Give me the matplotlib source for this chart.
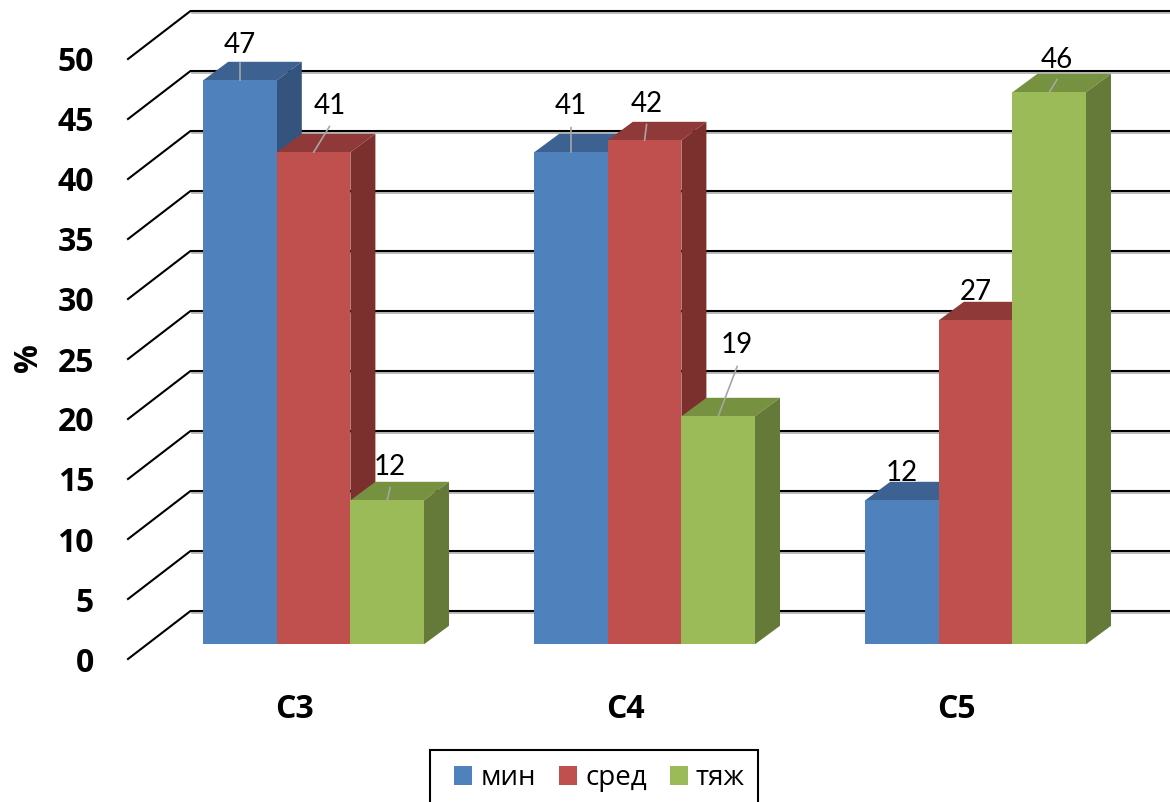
import matplotlib
matplotlib.use("Agg")
import matplotlib.pyplot as plt
from matplotlib.patches import Polygon, Patch, Rectangle

# Chart data
categories = ["С3", "С4", "С5"]
series_names = ["мин", "сред", "тяж"]
min_values = [47, 41, 12]
mid_values = [41, 42, 27]
severe_values = [12, 19, 46]
y_ticks = [0, 5, 10, 15, 20, 25, 30, 35, 40, 45, 50]

# Colours per series: front, top, side
front_colors = ["#4F81BD", "#C0504D", "#9BBB59"]
top_colors = ["#3D6291", "#8F3A38", "#76913F"]
side_colors = ["#34547E", "#7B302E", "#657938"]

# Scales of the pseudo-3D scene, in pixels
W, H = 1170, 802
UNIT_PX = 12.0          # pixels per percentage point
BASE_PX = 644.3         # baseline of the bar plane
CAT_PX = 331.0          # distance between categories
CAT0_PX = 313.6         # centre of first category
BAR_W = 73.6 / CAT_PX
DEPTH_X = 25.0 / CAT_PX
DEPTH_Y = 18.5 / UNIT_PX
WALL_DX = 190.5
FLOOR_DX = 128.0
BACK_Y = (BASE_PX - 611.0) / UNIT_PX
FRONT_Y = (BASE_PX - 659.0) / UNIT_PX

fig = plt.figure(figsize=(W / 100, H / 100), dpi=100, facecolor="white")
ax = fig.add_axes([0, 0, 1, 1])
ax.set_xlim(-CAT0_PX / CAT_PX, (W - CAT0_PX) / CAT_PX)
ax.set_ylim((BASE_PX - H) / UNIT_PX, BASE_PX / UNIT_PX)
ax.axis("off")


def px_x(px):
    return (px - CAT0_PX) / CAT_PX


def px_y(px):
    return (BASE_PX - px) / UNIT_PX


SANS = ["Lato", "Open Sans", "DejaVu Sans"]
CYR = ["Open Sans", "DejaVu Sans"]

# Wall gridlines and the slanted floor ticks
for t in y_ticks:
    y_back = t + BACK_Y
    y_front = t + FRONT_Y
    ax.plot([px_x(WALL_DX), px_x(W)], [y_back - 0.14] * 2, color="#b0b0b0",
            lw=1.2, zorder=1, solid_capstyle="butt")
    ax.plot([px_x(FLOOR_DX), px_x(WALL_DX), px_x(W)], [y_front, y_back, y_back],
            color="black", lw=1.5, zorder=2, solid_joinstyle="miter")
    ax.text(px_x(94), y_front, str(t), ha="right", va="center_baseline",
            fontsize=23, fontweight="bold", family=CYR, color="black", zorder=5)

# Bars, drawn left to right so that neighbours overlap properly
all_series = [min_values, mid_values, severe_values]
z = 3.0
for ci in range(len(categories)):
    for si, values in enumerate(all_series):
        v = values[ci]
        left = ci + (si - 1.5) * BAR_W
        right = left + BAR_W
        ax.add_patch(Polygon([(left, v), (right, v),
                              (right + DEPTH_X, v + DEPTH_Y),
                              (left + DEPTH_X, v + DEPTH_Y)],
                             closed=True, fc=top_colors[si], ec="none", zorder=z))
        ax.add_patch(Polygon([(right, 0), (right + DEPTH_X, DEPTH_Y),
                              (right + DEPTH_X, v + DEPTH_Y), (right, v)],
                             closed=True, fc=side_colors[si], ec="none", zorder=z))
        ax.bar(left, v, width=BAR_W, align="edge", color=front_colors[si],
               edgecolor="none", zorder=z + 0.1)
        z += 0.2

# Value labels with their leader lines: offsets in pixels from the bar's top centre
label_offsets = [
    [(0, 38), (16, 49), (3, 36)],
    [(0, 49), (2, 39), (19, 74)],
    [(0, 30), (0, 31), (8, 35)],
]
leader_offsets = [
    [(0, 18), (16, 26), (3, 13)],
    [(0, 25), (2, 16), (19, 50)],
    [None, None, (8, 13)],
]
for ci in range(len(categories)):
    for si, values in enumerate(all_series):
        v = values[ci]
        cx = ci + (si - 1.0) * BAR_W
        leader = leader_offsets[ci][si]
        if leader is not None:
            ax.annotate("", xy=(cx, v), xytext=leader, textcoords="offset pixels",
                        arrowprops=dict(arrowstyle="-", color="#a6a6a6", lw=1.2,
                                        shrinkA=0, shrinkB=0),
                        zorder=20)
        ax.annotate(str(v), xy=(cx, v), xytext=label_offsets[ci][si],
                    textcoords="offset pixels", ha="center", va="center_baseline",
                    fontsize=20, family=SANS, color="black", zorder=21)

# Category labels
for ci, name in enumerate(categories):
    ax.text(ci - 19 / CAT_PX, px_y(706), name, ha="center",
            va="center_baseline", fontsize=23, fontweight="bold",
            family=CYR, color="black")

# Vertical axis title
ax.text(px_x(28), px_y(358), "%", rotation=90, ha="center",
        va="center", fontsize=23, fontweight="bold", family=CYR, color="black")

# Legend box running off the bottom edge of the canvas, with its entries inside
ax.add_patch(Rectangle((px_x(430), px_y(810)), 328 / CAT_PX, 60 / UNIT_PX,
                       fc="white", ec="black", lw=1.5, zorder=29))
handles = [Patch(facecolor=c, edgecolor="none") for c in front_colors]
leg = ax.legend(handles, series_names, ncol=3, loc="upper left",
                bbox_to_anchor=(454 / W, 1 - 764 / H), bbox_transform=fig.transFigure,
                frameon=False, borderaxespad=0, borderpad=0,
                handlelength=0.65, handleheight=0.65,
                handletextpad=0.3, columnspacing=0.82, labelspacing=0,
                prop={"family": CYR, "size": 20})
leg.set_zorder(30)

fig.savefig("out.png", dpi=100)
